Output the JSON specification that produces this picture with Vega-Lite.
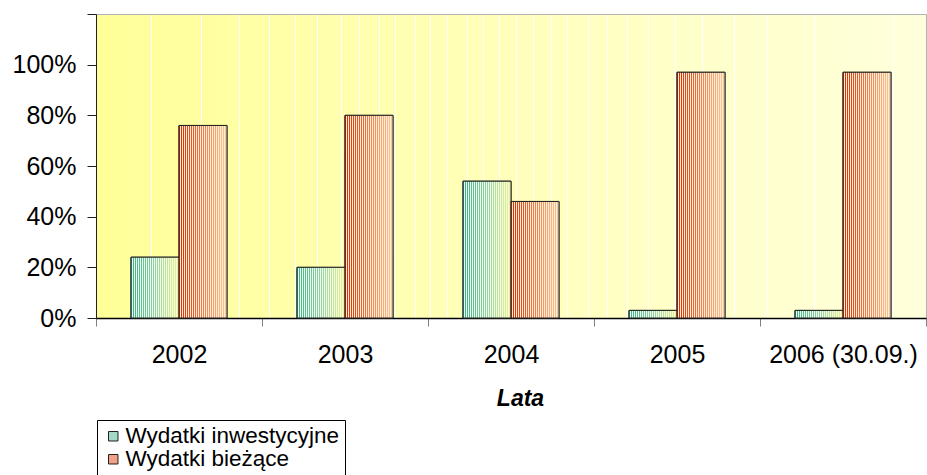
{
  "$schema": "https://vega.github.io/schema/vega-lite/v6.json",
  "autosize": "none",
  "width": 830,
  "height": 304,
  "padding": {"left": 96, "top": 14, "right": 1, "bottom": 157},
  "background": "#ffffff",
  "view": {
    "stroke": "#b4b4b4",
    "strokeWidth": 1,
    "fill": {
      "gradient": "linear", "x1": 0, "y1": 0, "x2": 1, "y2": 0,
      "stops": [
        {"offset": 0, "color": "#FFFF99"},
        {"offset": 0.0654, "color": "#FFFF9D"}, {"offset": 0.0654, "color": "#FFFFFF"}, {"offset": 0.0666, "color": "#FFFFFF"}, {"offset": 0.0666, "color": "#FFFF9D"},
        {"offset": 0.1254, "color": "#FFFFA1"}, {"offset": 0.1254, "color": "#FFFFFF"}, {"offset": 0.1266, "color": "#FFFFFF"}, {"offset": 0.1266, "color": "#FFFFA1"},
        {"offset": 0.1714, "color": "#FFFFA4"}, {"offset": 0.1714, "color": "#FFFFFF"}, {"offset": 0.1726, "color": "#FFFFFF"}, {"offset": 0.1726, "color": "#FFFFA4"},
        {"offset": 0.2074, "color": "#FFFFA7"}, {"offset": 0.2074, "color": "#FFFFFF"}, {"offset": 0.2086, "color": "#FFFFFF"}, {"offset": 0.2086, "color": "#FFFFA7"},
        {"offset": 0.2394, "color": "#FFFFA9"}, {"offset": 0.2394, "color": "#FFFFFF"}, {"offset": 0.2406, "color": "#FFFFFF"}, {"offset": 0.2406, "color": "#FFFFA9"},
        {"offset": 0.2654, "color": "#FFFFAB"}, {"offset": 0.2654, "color": "#FFFFFF"}, {"offset": 0.2666, "color": "#FFFFFF"}, {"offset": 0.2666, "color": "#FFFFAB"},
        {"offset": 0.2944, "color": "#FFFFAD"}, {"offset": 0.2944, "color": "#FFFFFF"}, {"offset": 0.2956, "color": "#FFFFFF"}, {"offset": 0.2956, "color": "#FFFFAD"},
        {"offset": 0.3164, "color": "#FFFFAE"}, {"offset": 0.3164, "color": "#FFFFFF"}, {"offset": 0.3176, "color": "#FFFFFF"}, {"offset": 0.3176, "color": "#FFFFAE"},
        {"offset": 0.3404, "color": "#FFFFB0"}, {"offset": 0.3404, "color": "#FFFFFF"}, {"offset": 0.3416, "color": "#FFFFFF"}, {"offset": 0.3416, "color": "#FFFFB0"},
        {"offset": 0.3594, "color": "#FFFFB1"}, {"offset": 0.3594, "color": "#FFFFFF"}, {"offset": 0.3606, "color": "#FFFFFF"}, {"offset": 0.3606, "color": "#FFFFB1"},
        {"offset": 0.3834, "color": "#FFFFB3"}, {"offset": 0.3834, "color": "#FFFFFF"}, {"offset": 0.3846, "color": "#FFFFFF"}, {"offset": 0.3846, "color": "#FFFFB3"},
        {"offset": 0.4014, "color": "#FFFFB4"}, {"offset": 0.4014, "color": "#FFFFFF"}, {"offset": 0.4026, "color": "#FFFFFF"}, {"offset": 0.4026, "color": "#FFFFB4"},
        {"offset": 0.4224, "color": "#FFFFB5"}, {"offset": 0.4224, "color": "#FFFFFF"}, {"offset": 0.4236, "color": "#FFFFFF"}, {"offset": 0.4236, "color": "#FFFFB5"},
        {"offset": 0.4464, "color": "#FFFFB7"}, {"offset": 0.4464, "color": "#FFFFFF"}, {"offset": 0.4476, "color": "#FFFFFF"}, {"offset": 0.4476, "color": "#FFFFB7"},
        {"offset": 0.4654, "color": "#FFFFB8"}, {"offset": 0.4654, "color": "#FFFFFF"}, {"offset": 0.4666, "color": "#FFFFFF"}, {"offset": 0.4666, "color": "#FFFFB8"},
        {"offset": 0.4854, "color": "#FFFFBA"}, {"offset": 0.4854, "color": "#FFFFFF"}, {"offset": 0.4866, "color": "#FFFFFF"}, {"offset": 0.4866, "color": "#FFFFBA"},
        {"offset": 0.5054, "color": "#FFFFBB"}, {"offset": 0.5054, "color": "#FFFFFF"}, {"offset": 0.5066, "color": "#FFFFFF"}, {"offset": 0.5066, "color": "#FFFFBB"},
        {"offset": 0.5264, "color": "#FFFFBC"}, {"offset": 0.5264, "color": "#FFFFFF"}, {"offset": 0.5276, "color": "#FFFFFF"}, {"offset": 0.5276, "color": "#FFFFBC"},
        {"offset": 0.5474, "color": "#FFFFBE"}, {"offset": 0.5474, "color": "#FFFFFF"}, {"offset": 0.5486, "color": "#FFFFFF"}, {"offset": 0.5486, "color": "#FFFFBE"},
        {"offset": 0.5664, "color": "#FFFFBF"}, {"offset": 0.5664, "color": "#FFFFFF"}, {"offset": 0.5676, "color": "#FFFFFF"}, {"offset": 0.5676, "color": "#FFFFBF"},
        {"offset": 0.5924, "color": "#FFFFC1"}, {"offset": 0.5924, "color": "#FFFFFF"}, {"offset": 0.5936, "color": "#FFFFFF"}, {"offset": 0.5936, "color": "#FFFFC1"},
        {"offset": 0.6154, "color": "#FFFFC2"}, {"offset": 0.6154, "color": "#FFFFFF"}, {"offset": 0.6166, "color": "#FFFFFF"}, {"offset": 0.6166, "color": "#FFFFC2"},
        {"offset": 0.6394, "color": "#FFFFC4"}, {"offset": 0.6394, "color": "#FFFFFF"}, {"offset": 0.6406, "color": "#FFFFFF"}, {"offset": 0.6406, "color": "#FFFFC4"},
        {"offset": 0.6644, "color": "#FFFFC6"}, {"offset": 0.6644, "color": "#FFFFFF"}, {"offset": 0.6656, "color": "#FFFFFF"}, {"offset": 0.6656, "color": "#FFFFC6"},
        {"offset": 0.6974, "color": "#FFFFC8"}, {"offset": 0.6974, "color": "#FFFFFF"}, {"offset": 0.6986, "color": "#FFFFFF"}, {"offset": 0.6986, "color": "#FFFFC8"},
        {"offset": 0.7294, "color": "#FFFFCA"}, {"offset": 0.7294, "color": "#FFFFFF"}, {"offset": 0.7306, "color": "#FFFFFF"}, {"offset": 0.7306, "color": "#FFFFCA"},
        {"offset": 0.7684, "color": "#FFFFCD"}, {"offset": 0.7684, "color": "#FFFFFF"}, {"offset": 0.7696, "color": "#FFFFFF"}, {"offset": 0.7696, "color": "#FFFFCD"},
        {"offset": 0.8074, "color": "#FFFFCF"}, {"offset": 0.8074, "color": "#FFFFFF"}, {"offset": 0.8086, "color": "#FFFFFF"}, {"offset": 0.8086, "color": "#FFFFCF"},
        {"offset": 0.8644, "color": "#FFFFD3"}, {"offset": 0.8644, "color": "#FFFFFF"}, {"offset": 0.8656, "color": "#FFFFFF"}, {"offset": 0.8656, "color": "#FFFFD3"},
        {"offset": 0.9594, "color": "#FFFFD9"}, {"offset": 0.9594, "color": "#FFFFFF"}, {"offset": 0.9606, "color": "#FFFFFF"}, {"offset": 0.9606, "color": "#FFFFD9"},
        {"offset": 1, "color": "#FFFFDC"}
      ]
    }
  },
  "config": {
    "font": "Liberation Sans",
    "axis": {"labelFont": "Liberation Sans", "titleFont": "Liberation Sans", "labelColor": "#000", "titleColor": "#000"},
    "legend": {"labelFont": "Liberation Sans"}
  },
  "data": {
    "values": [
      {"rok": "2002", "typ": "Wydatki inwestycyjne", "udzial": 0.24},
      {"rok": "2002", "typ": "Wydatki bieżące", "udzial": 0.76},
      {"rok": "2003", "typ": "Wydatki inwestycyjne", "udzial": 0.20},
      {"rok": "2003", "typ": "Wydatki bieżące", "udzial": 0.80},
      {"rok": "2004", "typ": "Wydatki inwestycyjne", "udzial": 0.54},
      {"rok": "2004", "typ": "Wydatki bieżące", "udzial": 0.46},
      {"rok": "2005", "typ": "Wydatki inwestycyjne", "udzial": 0.03},
      {"rok": "2005", "typ": "Wydatki bieżące", "udzial": 0.97},
      {"rok": "2006 (30.09.)", "typ": "Wydatki inwestycyjne", "udzial": 0.03},
      {"rok": "2006 (30.09.)", "typ": "Wydatki bieżące", "udzial": 0.97}
    ]
  },
  "encoding": {
    "x": {
      "field": "rok", "type": "nominal",
      "scale": {"paddingInner": 0, "paddingOuter": 0},
      "axis": {
        "title": "Lata", "titleFontSize": 23, "titleFontWeight": "bold", "titleFontStyle": "italic", "titlePadding": 20,
        "titleX": 424, "titleAlign": "center",
        "labelAngle": 0, "labelFontSize": 25, "labelPadding": 16,
        "tickBand": "extent", "tickSize": 8, "tickColor": "#808080", "tickWidth": 1,
        "domainColor": "#000000", "domainWidth": 1.5, "grid": false
      }
    },
    "xOffset": {
      "field": "typ", "type": "nominal",
      "sort": ["Wydatki inwestycyjne", "Wydatki bieżące"],
      "scale": {"paddingInner": 0, "paddingOuter": 0.73}
    },
    "y": {
      "field": "udzial", "type": "quantitative",
      "scale": {"domain": [0, 1.2], "nice": false},
      "axis": {
        "title": null, "values": [0, 0.2, 0.4, 0.6, 0.8, 1.0, 1.2],
        "labelExpr": "datum.value > 1.01 ? '' : format(datum.value, '.0%')",
        "labelFontSize": 25, "labelPadding": 11, "tickSize": 9, "tickColor": "#222", "domainColor": "#222", "grid": false
      }
    }
  },
  "layer": [
    {
      "mark": {"type": "bar", "stroke": "#222222", "strokeWidth": 1},
      "encoding": {
        "fill": {
          "field": "typ", "type": "nominal",
          "scale": {"domain": ["Wydatki inwestycyjne", "Wydatki bieżące"], "range": ["#A4D9C6", "#F2A088"]},
          "legend": {
            "title": null, "orient": "none", "legendX": 1, "legendY": 406,
            "direction": "vertical", "symbolType": "square", "symbolSize": 90,
            "symbolStrokeColor": "#222222", "symbolStrokeWidth": 1, "symbolOpacity": 1,
            "labelFontSize": 22.5, "labelLimit": 400, "labelOffset": 1, "rowPadding": -1,
            "padding": 5, "strokeColor": "#000000", "fillColor": "#ffffff", "cornerRadius": 0
          }
        }
      }
    },
    {
      "mark": {"type": "bar", "stroke": "#222222", "strokeWidth": 1},
      "encoding": {
        "fill": {
          "condition": {
            "test": "datum.typ === 'Wydatki inwestycyjne'",
            "value": {"gradient": "linear", "x1": 0, "y1": 0, "x2": 1, "y2": 0, "stops": [
              {"offset": 0, "color": "#28B0C4"}, {"offset": 0.0208, "color": "#28B0C4"}, {"offset": 0.0208, "color": "#FFFFB4"}, {"offset": 0.0417, "color": "#FFFFB4"},
              {"offset": 0.0417, "color": "#30B3C6"}, {"offset": 0.0625, "color": "#30B3C6"}, {"offset": 0.0625, "color": "#FFFFB4"}, {"offset": 0.0833, "color": "#FFFFB4"},
              {"offset": 0.0833, "color": "#38B5C9"}, {"offset": 0.1042, "color": "#38B5C9"}, {"offset": 0.1042, "color": "#FFFFB4"}, {"offset": 0.125, "color": "#FFFFB4"},
              {"offset": 0.125, "color": "#40B8CC"}, {"offset": 0.1458, "color": "#40B8CC"}, {"offset": 0.1458, "color": "#FFFFB4"}, {"offset": 0.1667, "color": "#FFFFB4"},
              {"offset": 0.1667, "color": "#47BACE"}, {"offset": 0.1875, "color": "#47BACE"}, {"offset": 0.1875, "color": "#FFFFB4"}, {"offset": 0.2083, "color": "#FFFFB4"},
              {"offset": 0.2083, "color": "#4FBDD1"}, {"offset": 0.2292, "color": "#4FBDD1"}, {"offset": 0.2292, "color": "#FFFFB4"}, {"offset": 0.25, "color": "#FFFFB4"},
              {"offset": 0.25, "color": "#57BFD3"}, {"offset": 0.2708, "color": "#57BFD3"}, {"offset": 0.2708, "color": "#FFFFB4"}, {"offset": 0.2917, "color": "#FFFFB4"},
              {"offset": 0.2917, "color": "#5FC2D6"}, {"offset": 0.3125, "color": "#5FC2D6"}, {"offset": 0.3125, "color": "#FFFFB4"}, {"offset": 0.3333, "color": "#FFFFB4"},
              {"offset": 0.3333, "color": "#67C4D8"}, {"offset": 0.3542, "color": "#67C4D8"}, {"offset": 0.3542, "color": "#FFFFB4"}, {"offset": 0.375, "color": "#FFFFB4"},
              {"offset": 0.375, "color": "#6EC7DB"}, {"offset": 0.3958, "color": "#6EC7DB"}, {"offset": 0.3958, "color": "#FFFFB4"}, {"offset": 0.4167, "color": "#FFFFB4"},
              {"offset": 0.4167, "color": "#76C9DD"}, {"offset": 0.4375, "color": "#76C9DD"}, {"offset": 0.4375, "color": "#FFFFB4"}, {"offset": 0.4583, "color": "#FFFFB4"},
              {"offset": 0.4583, "color": "#7ECCE0"}, {"offset": 0.4792, "color": "#7ECCE0"}, {"offset": 0.4792, "color": "#FFFFB4"}, {"offset": 0.5, "color": "#FFFFB4"},
              {"offset": 0.5, "color": "#86CEDF"}, {"offset": 0.5208, "color": "#86CEDF"}, {"offset": 0.5208, "color": "#FFFFB4"}, {"offset": 0.5417, "color": "#FFFFB4"},
              {"offset": 0.5417, "color": "#8ED2DC"}, {"offset": 0.5625, "color": "#8ED2DC"}, {"offset": 0.5625, "color": "#FFFFB4"}, {"offset": 0.5833, "color": "#FFFFB4"},
              {"offset": 0.5833, "color": "#97D5D8"}, {"offset": 0.6042, "color": "#97D5D8"}, {"offset": 0.6042, "color": "#FFFFB4"}, {"offset": 0.625, "color": "#FFFFB4"},
              {"offset": 0.625, "color": "#9FD8D5"}, {"offset": 0.6458, "color": "#9FD8D5"}, {"offset": 0.6458, "color": "#FFFFB4"}, {"offset": 0.6667, "color": "#FFFFB4"},
              {"offset": 0.6667, "color": "#A7DBD1"}, {"offset": 0.6875, "color": "#A7DBD1"}, {"offset": 0.6875, "color": "#FFFFB4"}, {"offset": 0.7083, "color": "#FFFFB4"},
              {"offset": 0.7083, "color": "#AFDECE"}, {"offset": 0.7292, "color": "#AFDECE"}, {"offset": 0.7292, "color": "#FFFFB4"}, {"offset": 0.75, "color": "#FFFFB4"},
              {"offset": 0.75, "color": "#B8E1CA"}, {"offset": 0.7708, "color": "#B8E1CA"}, {"offset": 0.7708, "color": "#FFFFB4"}, {"offset": 0.7917, "color": "#FFFFB4"},
              {"offset": 0.7917, "color": "#C0E4C7"}, {"offset": 0.8125, "color": "#C0E4C7"}, {"offset": 0.8125, "color": "#FFFFB4"}, {"offset": 0.8333, "color": "#FFFFB4"},
              {"offset": 0.8333, "color": "#C8E7C3"}, {"offset": 0.8542, "color": "#C8E7C3"}, {"offset": 0.8542, "color": "#FFFFB4"}, {"offset": 0.875, "color": "#FFFFB4"},
              {"offset": 0.875, "color": "#D0EAC0"}, {"offset": 0.8958, "color": "#D0EAC0"}, {"offset": 0.8958, "color": "#FFFFB4"}, {"offset": 0.9167, "color": "#FFFFB4"},
              {"offset": 0.9167, "color": "#D9EDBC"}, {"offset": 0.9375, "color": "#D9EDBC"}, {"offset": 0.9375, "color": "#FFFFB4"}, {"offset": 0.9583, "color": "#FFFFB4"},
              {"offset": 0.9583, "color": "#E1F0B9"}, {"offset": 0.9792, "color": "#E1F0B9"}, {"offset": 0.9792, "color": "#FFFFB4"}, {"offset": 1, "color": "#FFFFB4"}
            ]}
          },
          "value": {"gradient": "linear", "x1": 0, "y1": 0, "x2": 1, "y2": 0, "stops": [
            {"offset": 0, "color": "#DC280A"}, {"offset": 0.0208, "color": "#DC280A"}, {"offset": 0.0208, "color": "#FFF0C8"}, {"offset": 0.0417, "color": "#FFF0C8"},
            {"offset": 0.0417, "color": "#DE2F11"}, {"offset": 0.0625, "color": "#DE2F11"}, {"offset": 0.0625, "color": "#FFF0C8"}, {"offset": 0.0833, "color": "#FFF0C8"},
            {"offset": 0.0833, "color": "#DF3618"}, {"offset": 0.1042, "color": "#DF3618"}, {"offset": 0.1042, "color": "#FFF0C8"}, {"offset": 0.125, "color": "#FFF0C8"},
            {"offset": 0.125, "color": "#E13D1F"}, {"offset": 0.1458, "color": "#E13D1F"}, {"offset": 0.1458, "color": "#FFF0C8"}, {"offset": 0.1667, "color": "#FFF0C8"},
            {"offset": 0.1667, "color": "#E34426"}, {"offset": 0.1875, "color": "#E34426"}, {"offset": 0.1875, "color": "#FFF0C8"}, {"offset": 0.2083, "color": "#FFF0C8"},
            {"offset": 0.2083, "color": "#E54B2D"}, {"offset": 0.2292, "color": "#E54B2D"}, {"offset": 0.2292, "color": "#FFF0C8"}, {"offset": 0.25, "color": "#FFF0C8"},
            {"offset": 0.25, "color": "#E65234"}, {"offset": 0.2708, "color": "#E65234"}, {"offset": 0.2708, "color": "#FFF0C8"}, {"offset": 0.2917, "color": "#FFF0C8"},
            {"offset": 0.2917, "color": "#E8593B"}, {"offset": 0.3125, "color": "#E8593B"}, {"offset": 0.3125, "color": "#FFF0C8"}, {"offset": 0.3333, "color": "#FFF0C8"},
            {"offset": 0.3333, "color": "#EA6042"}, {"offset": 0.3542, "color": "#EA6042"}, {"offset": 0.3542, "color": "#FFF0C8"}, {"offset": 0.375, "color": "#FFF0C8"},
            {"offset": 0.375, "color": "#EC6749"}, {"offset": 0.3958, "color": "#EC6749"}, {"offset": 0.3958, "color": "#FFF0C8"}, {"offset": 0.4167, "color": "#FFF0C8"},
            {"offset": 0.4167, "color": "#ED6E50"}, {"offset": 0.4375, "color": "#ED6E50"}, {"offset": 0.4375, "color": "#FFF0C8"}, {"offset": 0.4583, "color": "#FFF0C8"},
            {"offset": 0.4583, "color": "#EF7557"}, {"offset": 0.4792, "color": "#EF7557"}, {"offset": 0.4792, "color": "#FFF0C8"}, {"offset": 0.5, "color": "#FFF0C8"},
            {"offset": 0.5, "color": "#F07B5D"}, {"offset": 0.5208, "color": "#F07B5D"}, {"offset": 0.5208, "color": "#FFF0C8"}, {"offset": 0.5417, "color": "#FFF0C8"},
            {"offset": 0.5417, "color": "#F18263"}, {"offset": 0.5625, "color": "#F18263"}, {"offset": 0.5625, "color": "#FFF0C8"}, {"offset": 0.5833, "color": "#FFF0C8"},
            {"offset": 0.5833, "color": "#F28869"}, {"offset": 0.6042, "color": "#F28869"}, {"offset": 0.6042, "color": "#FFF0C8"}, {"offset": 0.625, "color": "#FFF0C8"},
            {"offset": 0.625, "color": "#F38F6F"}, {"offset": 0.6458, "color": "#F38F6F"}, {"offset": 0.6458, "color": "#FFF0C8"}, {"offset": 0.6667, "color": "#FFF0C8"},
            {"offset": 0.6667, "color": "#F49575"}, {"offset": 0.6875, "color": "#F49575"}, {"offset": 0.6875, "color": "#FFF0C8"}, {"offset": 0.7083, "color": "#FFF0C8"},
            {"offset": 0.7083, "color": "#F59C7C"}, {"offset": 0.7292, "color": "#F59C7C"}, {"offset": 0.7292, "color": "#FFF0C8"}, {"offset": 0.75, "color": "#FFF0C8"},
            {"offset": 0.75, "color": "#F6A282"}, {"offset": 0.7708, "color": "#F6A282"}, {"offset": 0.7708, "color": "#FFF0C8"}, {"offset": 0.7917, "color": "#FFF0C8"},
            {"offset": 0.7917, "color": "#F7A988"}, {"offset": 0.8125, "color": "#F7A988"}, {"offset": 0.8125, "color": "#FFF0C8"}, {"offset": 0.8333, "color": "#FFF0C8"},
            {"offset": 0.8333, "color": "#F7AF8E"}, {"offset": 0.8542, "color": "#F7AF8E"}, {"offset": 0.8542, "color": "#FFF0C8"}, {"offset": 0.875, "color": "#FFF0C8"},
            {"offset": 0.875, "color": "#F8B694"}, {"offset": 0.8958, "color": "#F8B694"}, {"offset": 0.8958, "color": "#FFF0C8"}, {"offset": 0.9167, "color": "#FFF0C8"},
            {"offset": 0.9167, "color": "#F9BC9A"}, {"offset": 0.9375, "color": "#F9BC9A"}, {"offset": 0.9375, "color": "#FFF0C8"}, {"offset": 0.9583, "color": "#FFF0C8"},
            {"offset": 0.9583, "color": "#FAC3A0"}, {"offset": 0.9792, "color": "#FAC3A0"}, {"offset": 0.9792, "color": "#FFF0C8"}, {"offset": 1, "color": "#FFF0C8"}
          ]}
        }
      }
    }
  ]
}
